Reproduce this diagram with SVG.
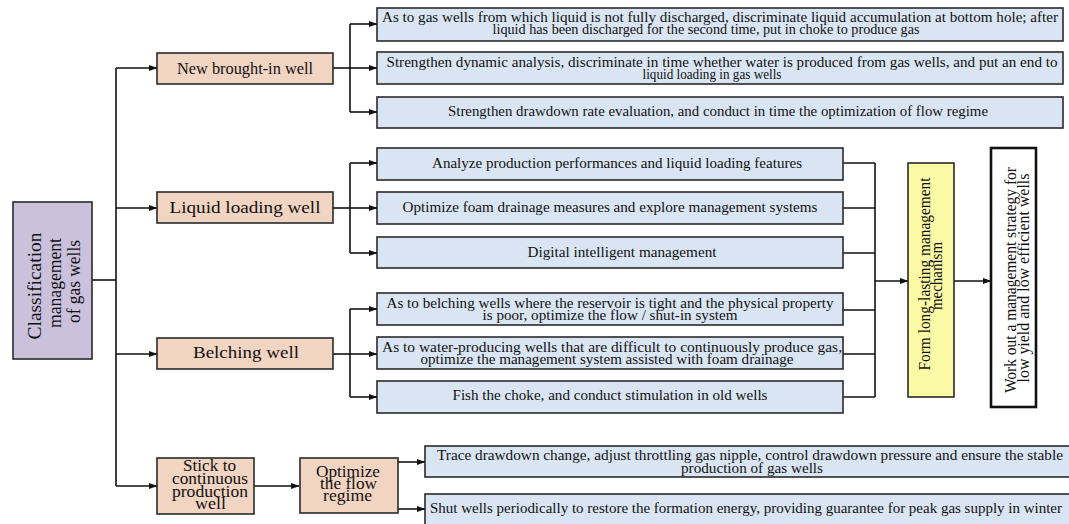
<svg xmlns="http://www.w3.org/2000/svg" width="1069" height="524" viewBox="0 0 1069 524">
<style>
text{font-family:"Liberation Serif","Times New Roman",serif;fill:#111;}
.b{font-size:15.5px;text-anchor:middle;}
.o{font-size:16.5px;text-anchor:middle;}
.s{font-size:17px;text-anchor:middle;}
.v{font-size:19px;text-anchor:middle;}
.y{font-size:16px;text-anchor:middle;}
.blue{fill:#dae5f3;stroke:#2a2a2a;stroke-width:1.6;}
.org{fill:#f1d4c2;stroke:#2a2a2a;stroke-width:1.6;}
.con path{fill:none;stroke:#111;stroke-width:1.6;}
.ar{marker-end:url(#ah);}
</style>
<defs>
<marker id="ah" markerWidth="9" markerHeight="8" refX="8.5" refY="4" orient="auto" markerUnits="userSpaceOnUse">
<path d="M0,0.7 L9,4 L0,7.3 z" fill="#111"/>
</marker>
</defs>
<rect width="1069" height="524" fill="#ffffff"/>

<g id="connectors" class="con">
<path d="M92,280 H116"/>
<path d="M116,68 V486"/>
<path class="ar" d="M116,68 H157"/>
<path class="ar" d="M116,208 H157"/>
<path class="ar" d="M116,354 H157"/>
<path class="ar" d="M116,486 H157"/>
<path d="M333,68 H350"/>
<path d="M350,24 V112"/>
<path class="ar" d="M350,24 H377"/>
<path class="ar" d="M350,68 H377"/>
<path class="ar" d="M350,112 H377"/>
<path d="M333,208 H350"/>
<path d="M350,163 V253"/>
<path class="ar" d="M350,163 H377"/>
<path class="ar" d="M350,208 H377"/>
<path class="ar" d="M350,253 H377"/>
<path d="M333,354 H350"/>
<path d="M350,309 V397"/>
<path class="ar" d="M350,309 H377"/>
<path class="ar" d="M350,354 H377"/>
<path class="ar" d="M350,397 H377"/>
<path class="ar" d="M254,486 H299"/>
<path class="ar" d="M398,462 H425"/>
<path class="ar" d="M398,509 H425"/>
<path d="M843,163 H875 M843,208 H875 M843,253 H875 M843,310 H875 M843,354 H875 M843,397 H875"/>
<path d="M875,163 V397"/>
<path class="ar" d="M875,281 H908"/>
<path class="ar" d="M954,281 H991"/>
</g>

<g id="root">
<rect x="13" y="202" width="79" height="157" fill="#cbc1dc" stroke="#2a2a2a" stroke-width="1.6"/>
<text class="v" transform="translate(41,286) rotate(-90)" textLength="107" lengthAdjust="spacingAndGlyphs">Classification</text>
<text class="v" transform="translate(61,283) rotate(-90)" textLength="90" lengthAdjust="spacingAndGlyphs">management</text>
<text class="v" transform="translate(80,281.5) rotate(-90)" textLength="83" lengthAdjust="spacingAndGlyphs">of gas wells</text>
</g>

<g id="new-well">
<rect class="org" x="157" y="53" width="176" height="31"/>
<text class="o" x="245" y="74" textLength="136" lengthAdjust="spacingAndGlyphs">New brought-in well</text>
</g>
<g id="liquid-well">
<rect class="org" x="157" y="192" width="176" height="31"/>
<text class="o" x="245" y="213" textLength="151" lengthAdjust="spacingAndGlyphs">Liquid loading well</text>
</g>
<g id="belching-well">
<rect class="org" x="157" y="338" width="176" height="31"/>
<text class="o" x="246" y="358" textLength="106" lengthAdjust="spacingAndGlyphs">Belching well</text>
</g>
<g id="stick-well">
<rect class="org" x="157" y="458" width="97" height="56"/>
<text class="s" x="209.5" y="471" textLength="53" lengthAdjust="spacingAndGlyphs">Stick to</text>
<text class="s" x="210" y="483.5" textLength="76" lengthAdjust="spacingAndGlyphs">continuous</text>
<text class="s" x="210" y="496.5" textLength="76" lengthAdjust="spacingAndGlyphs">production</text>
<text class="s" x="210.5" y="509" textLength="31" lengthAdjust="spacingAndGlyphs">well</text>
</g>
<g id="optimize-flow">
<rect class="org" x="300" y="458" width="98" height="55"/>
<text class="s" x="348" y="476.5" textLength="64" lengthAdjust="spacingAndGlyphs">Optimize</text>
<text class="s" x="348.5" y="488.5" textLength="57" lengthAdjust="spacingAndGlyphs">the flow</text>
<text class="s" x="347.5" y="500.5" textLength="49" lengthAdjust="spacingAndGlyphs">regime</text>
</g>

<g id="n1-1">
<rect class="blue" x="377" y="8" width="686" height="33"/>
<text class="b" x="720" y="22" textLength="676" lengthAdjust="spacingAndGlyphs">As to gas wells from which liquid is not fully discharged, discriminate liquid accumulation at bottom hole; after</text>
<text class="b" x="706" y="34" textLength="427" lengthAdjust="spacingAndGlyphs">liquid has been discharged for the second time, put in choke to produce gas</text>
</g>
<g id="n1-2">
<rect class="blue" x="377" y="52" width="686" height="32"/>
<text class="b" x="722" y="66.5" textLength="671" lengthAdjust="spacingAndGlyphs">Strengthen dynamic analysis, discriminate in time whether water is produced from gas wells, and put an end to</text>
<text class="b" x="712" y="78.5" textLength="139" lengthAdjust="spacingAndGlyphs">liquid loading in gas wells</text>
</g>
<g id="n1-3">
<rect class="blue" x="377" y="97" width="686" height="31"/>
<text class="b" x="718" y="116" textLength="540" lengthAdjust="spacingAndGlyphs">Strengthen drawdown rate evaluation, and conduct in time the optimization of flow regime</text>
</g>

<g id="n2-1">
<rect class="blue" x="377" y="148" width="466" height="32"/>
<text class="b" x="617" y="168" textLength="370" lengthAdjust="spacingAndGlyphs">Analyze production performances and liquid loading features</text>
</g>
<g id="n2-2">
<rect class="blue" x="377" y="192" width="466" height="32"/>
<text class="b" x="610" y="212" textLength="415" lengthAdjust="spacingAndGlyphs">Optimize foam drainage measures and explore management systems</text>
</g>
<g id="n2-3">
<rect class="blue" x="377" y="237" width="466" height="31"/>
<text class="b" x="622" y="257" textLength="189" lengthAdjust="spacingAndGlyphs">Digital intelligent management</text>
</g>

<g id="n3-1">
<rect class="blue" x="377" y="293" width="466" height="32"/>
<text class="b" x="610" y="307.5" textLength="447" lengthAdjust="spacingAndGlyphs">As to belching wells where the reservoir is tight and the physical property</text>
<text class="b" x="610" y="319.5" textLength="255" lengthAdjust="spacingAndGlyphs">is poor, optimize the flow / shut-in system</text>
</g>
<g id="n3-2">
<rect class="blue" x="377" y="337" width="466" height="32"/>
<text class="b" x="612" y="351.5" textLength="460" lengthAdjust="spacingAndGlyphs">As to water-producing wells that are difficult to continuously produce gas,</text>
<text class="b" x="607" y="363.5" textLength="373" lengthAdjust="spacingAndGlyphs">optimize the management system assisted with foam drainage</text>
</g>
<g id="n3-3">
<rect class="blue" x="377" y="381" width="466" height="32"/>
<text class="b" x="610" y="400" textLength="315" lengthAdjust="spacingAndGlyphs">Fish the choke, and conduct stimulation in old wells</text>
</g>

<g id="n4-1">
<rect class="blue" x="425" y="446" width="650" height="31"/>
<text class="b" x="750" y="460" textLength="626" lengthAdjust="spacingAndGlyphs">Trace drawdown change, adjust throttling gas nipple, control drawdown pressure and ensure the stable</text>
<text class="b" x="752" y="472.5" textLength="142" lengthAdjust="spacingAndGlyphs">production of gas wells</text>
</g>
<g id="n4-2">
<rect class="blue" x="425" y="494" width="650" height="40"/>
<text class="b" x="746" y="513" textLength="632" lengthAdjust="spacingAndGlyphs">Shut wells periodically to restore the formation energy, providing guarantee for peak gas supply in winter</text>
</g>

<g id="mechanism">
<rect x="908" y="163" width="46" height="234" fill="#fafaa6" stroke="#2a2a2a" stroke-width="1.6"/>
<text class="y" transform="translate(930,274) rotate(-90)" textLength="193" lengthAdjust="spacingAndGlyphs">Form long-lasting management</text>
<text class="y" transform="translate(942,276) rotate(-90)" textLength="68" lengthAdjust="spacingAndGlyphs">mechanism</text>
</g>

<g id="strategy">
<rect x="991" y="148" width="45" height="259" fill="#ffffff" stroke="#111" stroke-width="2.6"/>
<text class="y" transform="translate(1016,280) rotate(-90)" textLength="226" lengthAdjust="spacingAndGlyphs">Work out a management strategy for</text>
<text class="y" transform="translate(1029,278) rotate(-90)" textLength="209" lengthAdjust="spacingAndGlyphs">low yield and low efficient wells</text>
</g>
</svg>
